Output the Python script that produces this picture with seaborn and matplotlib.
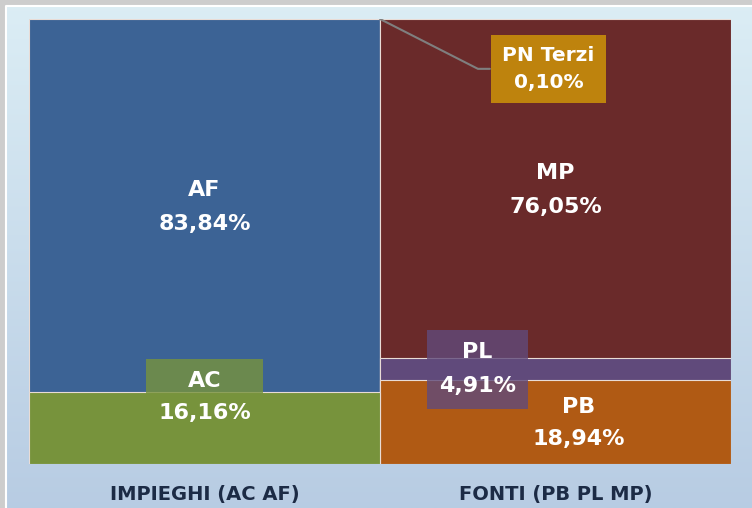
import numpy as np
import pandas as pd
import matplotlib
matplotlib.use("Agg")
import matplotlib.pyplot as plt
import seaborn as sns

# -------------------------
# DATA
# -------------------------
groups = ["IMPIEGHI (AC AF)", "FONTI (PB PL MP)"]
segments = ["AC", "AF", "PB", "PL", "MP", "PN Terzi"]
segment_group = [0, 0, 1, 1, 1, 1]
values = [16.16, 83.84, 18.94, 4.91, 76.05, 0.10]
value_labels = ["16,16%", "83,84%", "18,94%", "4,91%", "76,05%", "0,10%"]
colors = ["#77933c", "#3c6395", "#b05a14", "#604a7b", "#6a2a2a", "#d49a06"]

df = pd.DataFrame({
    "group": [groups[g] for g in segment_group],
    "segment": segments,
    "value": np.array(values) / 100,
})
df["top"] = df.groupby("group")["value"].cumsum()
df["bottom"] = df["top"] - df["value"]

# -------------------------
# FIGURE
# -------------------------
sns.set_theme(style="white")
plt.rcParams["font.family"] = ["DejaVu Sans"]

W, H = 752, 508
fig = plt.figure(figsize=(W / 100, H / 100), dpi=100, facecolor="#cdcdcd")

# gradient background
bg = fig.add_axes([6 / W, 0, 1 - 6 / W, 1 - 6 / H])
grad = np.linspace(0, 1, 256).reshape(-1, 1)
top_c = np.array([0.86, 0.93, 0.96])
bot_c = np.array([0.72, 0.80, 0.89])
img = top_c * (1 - grad[..., None]) + bot_c * grad[..., None]
bg.imshow(img, aspect="auto", extent=[0, 1, 0, 1])
bg.axis("off")
bg.plot([0, 0, 1], [0, 1, 1], color="white", lw=1.5, transform=bg.transAxes, clip_on=False)

ax = fig.add_axes([29 / W, 44 / H, 702 / W, 445 / H])
ax.patch.set_alpha(0)

# stacked bars: draw cumulative tops, largest first
for i in df.sort_values("top", ascending=False).index:
    row = df.loc[i]
    sns.barplot(x=[row["group"]], y=[row["top"]], order=groups, color=colors[i],
                width=1.0, saturation=1, edgecolor="#e9dcd6", linewidth=0.8, ax=ax)

ax.set_xlim(-0.5, 1.5)
ax.set_ylim(0, 1)
ax.set_yticks([])
ax.set_ylabel("")
ax.set_xlabel("")
sns.despine(ax=ax, left=True, bottom=True)
ax.tick_params(axis="x", length=0, pad=15)
for t in ax.get_xticklabels():
    t.set_fontsize(14)
    t.set_fontweight("bold")
    t.set_color("#1c2b45")

# -------------------------
# LABELS
# -------------------------
# x, y, boxed, line spacing, font size
label_pos = {
    "AC": (0.0, 0.15, True, 1.75, 16),
    "AF": (0.0, 0.578, False, 1.9, 16),
    "PB": (1.065, 0.092, False, 1.8, 16),
    "PL": (0.778, 0.213, True, 1.9, 16),
    "MP": (1.0, 0.616, False, 1.9, 16),
    "PN Terzi": (0.98, 0.888, True, 1.55, 14.5),
}
for i, seg in enumerate(segments):
    x, y, boxed, ls, fs = label_pos[seg]
    bbox = None
    if boxed:
        bbox = dict(boxstyle="square,pad=0.55", facecolor=colors[i], edgecolor="none", alpha=0.8)
    ax.text(x, y, f"{seg}\n{value_labels[i]}", ha="center", va="center", color="white",
            fontsize=fs, fontweight="bold", linespacing=ls, bbox=bbox, zorder=5)

# leader line for PN Terzi
ax.plot([0.5, 0.779, 0.813], [1.0, 0.888, 0.888], color="#7f7f7f", lw=1.5, zorder=4)

fig.savefig("out.png", dpi=100, facecolor=fig.get_facecolor())
